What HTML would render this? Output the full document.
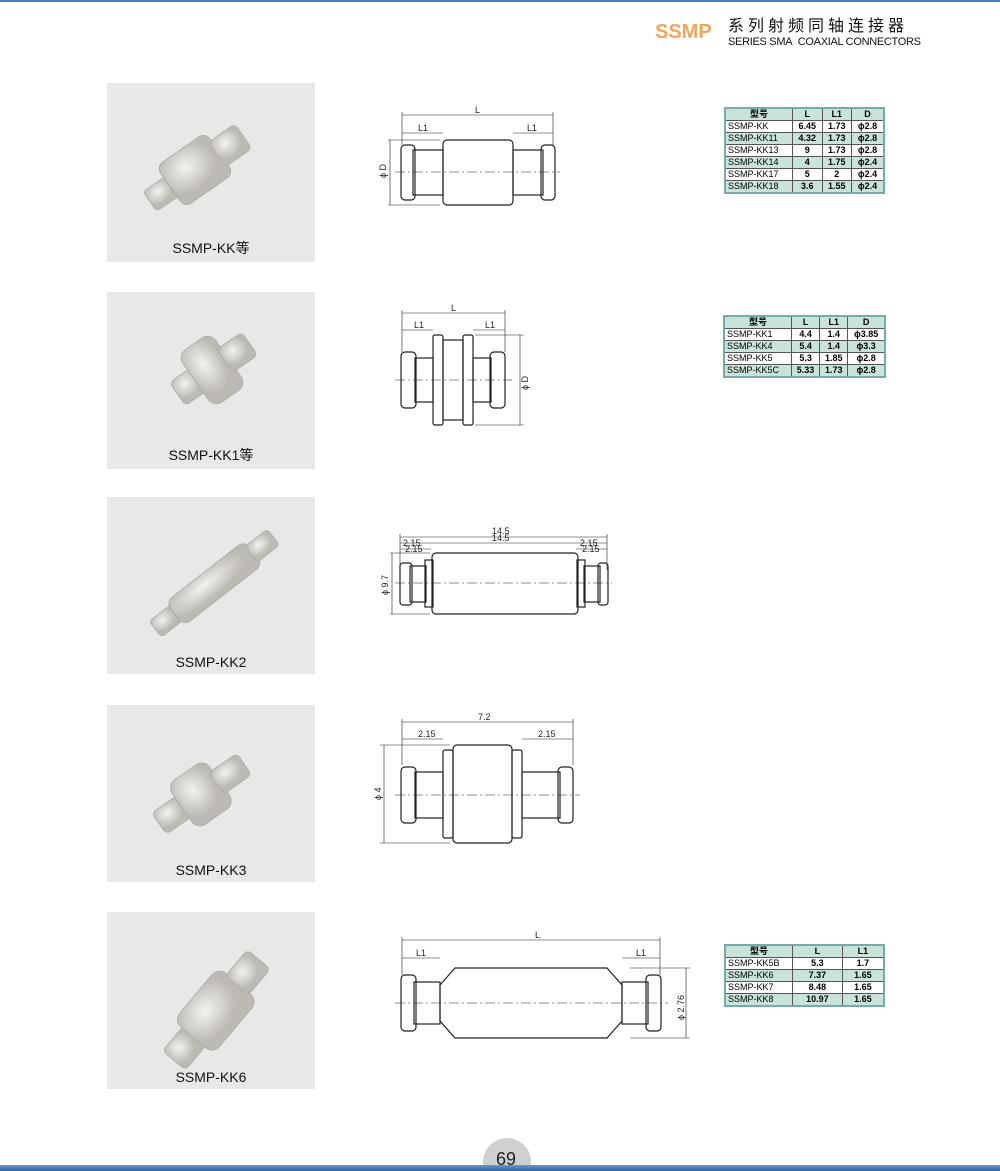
<!DOCTYPE html>
<html><head><meta charset="utf-8"><style>
body{margin:0;width:1000px;height:1171px;position:relative;background:#fff;font-family:"Liberation Sans","Noto Sans CJK SC",sans-serif;overflow:hidden}
.photo{position:absolute;left:107px;width:208px;background:#e9e8e7}
.photo span{position:absolute;left:0;right:0;bottom:4px;text-align:center;font-size:14px;color:#111}
table{position:absolute;border-collapse:collapse;font-size:9px;background:#fff;border:2px solid #7aa;}
td{border:1px solid #555;padding:0 2px;height:11px;line-height:11px;white-space:nowrap}
td.n{text-align:center;font-weight:bold}
tr.g td{background:#c8e4d8}
</style></head><body>
<div style="position:absolute;left:0;top:0;width:1000px;height:2px;background:#4a7fb5"></div>
<div style="position:absolute;left:655px;top:22px;font-size:20px;line-height:20px;font-weight:bold;color:#f5a55a">SSMP</div>
<div style="position:absolute;left:728px;top:18px;font-size:16px;line-height:17px;letter-spacing:4px;color:#111">系列射频同轴连接器</div>
<div style="position:absolute;left:728px;top:37px;font-size:11px;line-height:11px;color:#111;letter-spacing:-0.3px">SERIES SMA&nbsp; COAXIAL CONNECTORS</div>

<div class="photo" style="top:83px;height:179px"><span>SSMP-KK等</span></div>
<div class="photo" style="top:292px;height:177px"><span>SSMP-KK1等</span></div>
<div class="photo" style="top:497px;height:177px"><span>SSMP-KK2</span></div>
<div class="photo" style="top:705px;height:177px"><span>SSMP-KK3</span></div>
<div class="photo" style="top:912px;height:177px"><span>SSMP-KK6</span></div>

<svg style="position:absolute;left:0;top:0" width="1000" height="1171" fill="none" stroke="#222" stroke-width="1.2" font-family="Liberation Sans" font-size="9">
<defs><radialGradient id="m" cx="40%" cy="35%"><stop offset="0" stop-color="#f4f2ee"/><stop offset="1" stop-color="#bdbab4"/></radialGradient></defs>
<g fill="url(#m)" stroke="#aaa" stroke-width="0.8">
<g transform="rotate(-35 195 170)"><rect x="140" y="158" width="30" height="24" rx="4"/><rect x="165" y="145" width="60" height="50" rx="8"/><rect x="222" y="155" width="32" height="30" rx="5"/></g>
<g transform="rotate(-35 212 370)"><rect x="170" y="356" width="30" height="28" rx="5"/><rect x="192" y="338" width="40" height="64" rx="10"/><rect x="228" y="356" width="30" height="28" rx="5"/></g>
<g transform="rotate(-38 212 585)"><rect x="140" y="575" width="28" height="20" rx="4"/><rect x="165" y="570" width="100" height="30" rx="8"/><rect x="262" y="575" width="28" height="20" rx="4"/></g>
<g transform="rotate(-35 200 795)"><rect x="150" y="782" width="32" height="26" rx="5"/><rect x="178" y="768" width="46" height="54" rx="10"/><rect x="220" y="782" width="34" height="26" rx="5"/></g>
<g transform="rotate(-50 215 1010)"><rect x="150" y="996" width="32" height="30" rx="5"/><rect x="180" y="985" width="70" height="52" rx="10"/><rect x="248" y="996" width="34" height="30" rx="5"/></g>
</g>

<g>
<line x1="402" y1="115" x2="553" y2="115" stroke-width=".6"/><line x1="402" y1="133" x2="443" y2="133" stroke-width=".6"/><line x1="513" y1="133" x2="553" y2="133" stroke-width=".6"/>
<line x1="402" y1="112" x2="402" y2="145" stroke-width=".6"/><line x1="553" y1="112" x2="553" y2="145" stroke-width=".6"/>
<line x1="388" y1="140" x2="440" y2="140" stroke-width=".6"/><line x1="388" y1="205" x2="440" y2="205" stroke-width=".6"/><line x1="390" y1="140" x2="390" y2="205" stroke-width=".6"/>
<rect x="443" y="140" width="70" height="65" rx="4"/>
<rect x="413" y="150" width="30" height="45"/><rect x="513" y="150" width="30" height="45"/>
<rect x="401" y="145" width="14" height="55" rx="4"/><rect x="541" y="145" width="14" height="55" rx="4"/>
<line x1="395" y1="172" x2="560" y2="172" stroke-width=".6" stroke-dasharray="10 3 2 3"/>
</g>
<g fill="#222" stroke="none"><text x="475" y="113">L</text><text x="418" y="131">L1</text><text x="527" y="131">L1</text><text transform="translate(386 178) rotate(-90)">ϕ D</text></g>

<g>
<line x1="402" y1="313" x2="505" y2="313" stroke-width=".6"/><line x1="402" y1="330" x2="433" y2="330" stroke-width=".6"/><line x1="473" y1="330" x2="505" y2="330" stroke-width=".6"/>
<line x1="402" y1="310" x2="402" y2="352" stroke-width=".6"/><line x1="505" y1="310" x2="505" y2="352" stroke-width=".6"/>
<line x1="475" y1="335" x2="524" y2="335" stroke-width=".6"/><line x1="475" y1="425" x2="524" y2="425" stroke-width=".6"/><line x1="520" y1="335" x2="520" y2="425" stroke-width=".6"/>
<rect x="433" y="335" width="10" height="90" rx="2"/><rect x="463" y="335" width="10" height="90" rx="2"/><rect x="443" y="340" width="20" height="80"/>
<rect x="415" y="358" width="18" height="44"/><rect x="473" y="358" width="18" height="44"/>
<rect x="401" y="352" width="15" height="56" rx="4"/><rect x="490" y="352" width="15" height="56" rx="4"/>
<line x1="395" y1="380" x2="512" y2="380" stroke-width=".6" stroke-dasharray="10 3 2 3"/>
</g>
<g fill="#222" stroke="none"><text x="451" y="311">L</text><text x="414" y="328">L1</text><text x="485" y="328">L1</text><text transform="translate(528 390) rotate(-90)">ϕ D</text></g>

<g>
<line x1="400" y1="537" x2="607" y2="537" stroke-width=".6"/><line x1="400" y1="543" x2="607" y2="543" stroke-width=".6"/>
<line x1="400" y1="549" x2="431" y2="549" stroke-width=".6"/><line x1="576" y1="549" x2="607" y2="549" stroke-width=".6"/>
<line x1="400" y1="534" x2="400" y2="570" stroke-width=".6"/><line x1="607" y1="534" x2="607" y2="570" stroke-width=".6"/>
<line x1="390" y1="553" x2="430" y2="553" stroke-width=".6"/><line x1="390" y1="614" x2="430" y2="614" stroke-width=".6"/><line x1="392" y1="553" x2="392" y2="614" stroke-width=".6"/>
<rect x="432" y="553" width="146" height="61" rx="4"/><rect x="425" y="560" width="8" height="47"/><rect x="577" y="560" width="8" height="47"/>
<rect x="410" y="566" width="16" height="36"/><rect x="584" y="566" width="16" height="36"/>
<rect x="400" y="563" width="12" height="42" rx="3"/><rect x="598" y="563" width="10" height="42" rx="3"/>
<line x1="395" y1="583" x2="612" y2="583" stroke-width=".6" stroke-dasharray="10 3 2 3"/>
</g>
<g fill="#222" stroke="none"><text x="492" y="534">14.5</text><text x="492" y="541">14.5</text><text x="403" y="546">2.15</text><text x="405" y="552">2.15</text><text x="580" y="546">2.15</text><text x="582" y="552">2.15</text><text transform="translate(388 595) rotate(-90)">ϕ 9.7</text></g>

<g>
<line x1="402" y1="722" x2="573" y2="722" stroke-width=".6"/><line x1="402" y1="739" x2="443" y2="739" stroke-width=".6"/><line x1="522" y1="739" x2="573" y2="739" stroke-width=".6"/>
<line x1="402" y1="719" x2="402" y2="765" stroke-width=".6"/><line x1="573" y1="719" x2="573" y2="765" stroke-width=".6"/>
<line x1="380" y1="745" x2="450" y2="745" stroke-width=".6"/><line x1="380" y1="843" x2="450" y2="843" stroke-width=".6"/><line x1="384" y1="745" x2="384" y2="843" stroke-width=".6"/>
<rect x="443" y="750" width="10" height="88" rx="2"/><rect x="512" y="750" width="10" height="88" rx="2"/><rect x="453" y="745" width="59" height="98" rx="4"/>
<rect x="415" y="772" width="28" height="46"/><rect x="522" y="772" width="38" height="46"/>
<rect x="401" y="767" width="15" height="56" rx="4"/><rect x="558" y="767" width="15" height="56" rx="4"/>
<line x1="395" y1="795" x2="580" y2="795" stroke-width=".6" stroke-dasharray="10 3 2 3"/>
</g>
<g fill="#222" stroke="none"><text x="478" y="720">7.2</text><text x="418" y="737">2.15</text><text x="538" y="737">2.15</text><text transform="translate(381 800) rotate(-90)">ϕ 4</text></g>

<g>
<line x1="402" y1="940" x2="660" y2="940" stroke-width=".6"/><line x1="402" y1="958" x2="440" y2="958" stroke-width=".6"/><line x1="622" y1="958" x2="660" y2="958" stroke-width=".6"/>
<line x1="402" y1="937" x2="402" y2="975" stroke-width=".6"/><line x1="660" y1="937" x2="660" y2="975" stroke-width=".6"/>
<line x1="630" y1="968" x2="690" y2="968" stroke-width=".6"/><line x1="630" y1="1038" x2="690" y2="1038" stroke-width=".6"/><line x1="686" y1="968" x2="686" y2="1038" stroke-width=".6"/>
<path d="M440 985 L455 968 H607 L622 985 V1021 L607 1038 H455 L440 1021 Z"/>
<rect x="414" y="982" width="26" height="42"/><rect x="622" y="982" width="26" height="42"/>
<rect x="401" y="975" width="15" height="56" rx="4"/><rect x="646" y="975" width="15" height="56" rx="4"/>
<line x1="395" y1="1003" x2="668" y2="1003" stroke-width=".6" stroke-dasharray="10 3 2 3"/>
</g>
<g fill="#222" stroke="none"><text x="535" y="938">L</text><text x="416" y="956">L1</text><text x="636" y="956">L1</text><text transform="translate(684 1020) rotate(-90)">ϕ 2.76</text></g>

<circle cx="507" cy="1162" r="24" fill="#d0d0d0" stroke="none"/>
<text x="496" y="1165" font-size="18" fill="#222" stroke="none">69</text>
</svg>
<div style="position:absolute;left:0;top:1165px;width:1000px;height:6px;background:linear-gradient(#6b9ad0,#2f5f9a)"></div>

<table style="left:724px;top:107px;width:161px">
<tr class="g"><td class="n" style="width:62px">型号</td><td class="n">L</td><td class="n">L1</td><td class="n">D</td></tr>
<tr><td>SSMP-KK</td><td class="n">6.45</td><td class="n">1.73</td><td class="n">ϕ2.8</td></tr>
<tr class="g"><td>SSMP-KK11</td><td class="n">4.32</td><td class="n">1.73</td><td class="n">ϕ2.8</td></tr>
<tr><td>SSMP-KK13</td><td class="n">9</td><td class="n">1.73</td><td class="n">ϕ2.8</td></tr>
<tr class="g"><td>SSMP-KK14</td><td class="n">4</td><td class="n">1.75</td><td class="n">ϕ2.4</td></tr>
<tr><td>SSMP-KK17</td><td class="n">5</td><td class="n">2</td><td class="n">ϕ2.4</td></tr>
<tr class="g"><td>SSMP-KK18</td><td class="n">3.6</td><td class="n">1.55</td><td class="n">ϕ2.4</td></tr>
</table>
<table style="left:723px;top:315px;width:163px">
<tr class="g"><td class="n" style="width:62px">型号</td><td class="n">L</td><td class="n">L1</td><td class="n">D</td></tr>
<tr><td>SSMP-KK1</td><td class="n">4.4</td><td class="n">1.4</td><td class="n">ϕ3.85</td></tr>
<tr class="g"><td>SSMP-KK4</td><td class="n">5.4</td><td class="n">1.4</td><td class="n">ϕ3.3</td></tr>
<tr><td>SSMP-KK5</td><td class="n">5.3</td><td class="n">1.85</td><td class="n">ϕ2.8</td></tr>
<tr class="g"><td>SSMP-KK5C</td><td class="n">5.33</td><td class="n">1.73</td><td class="n">ϕ2.8</td></tr>
</table>
<table style="left:724px;top:944px;width:161px">
<tr class="g"><td class="n" style="width:62px">型号</td><td class="n">L</td><td class="n">L1</td></tr>
<tr><td>SSMP-KK5B</td><td class="n">5.3</td><td class="n">1.7</td></tr>
<tr class="g"><td>SSMP-KK6</td><td class="n">7.37</td><td class="n">1.65</td></tr>
<tr><td>SSMP-KK7</td><td class="n">8.48</td><td class="n">1.65</td></tr>
<tr class="g"><td>SSMP-KK8</td><td class="n">10.97</td><td class="n">1.65</td></tr>
</table>
</body></html>
